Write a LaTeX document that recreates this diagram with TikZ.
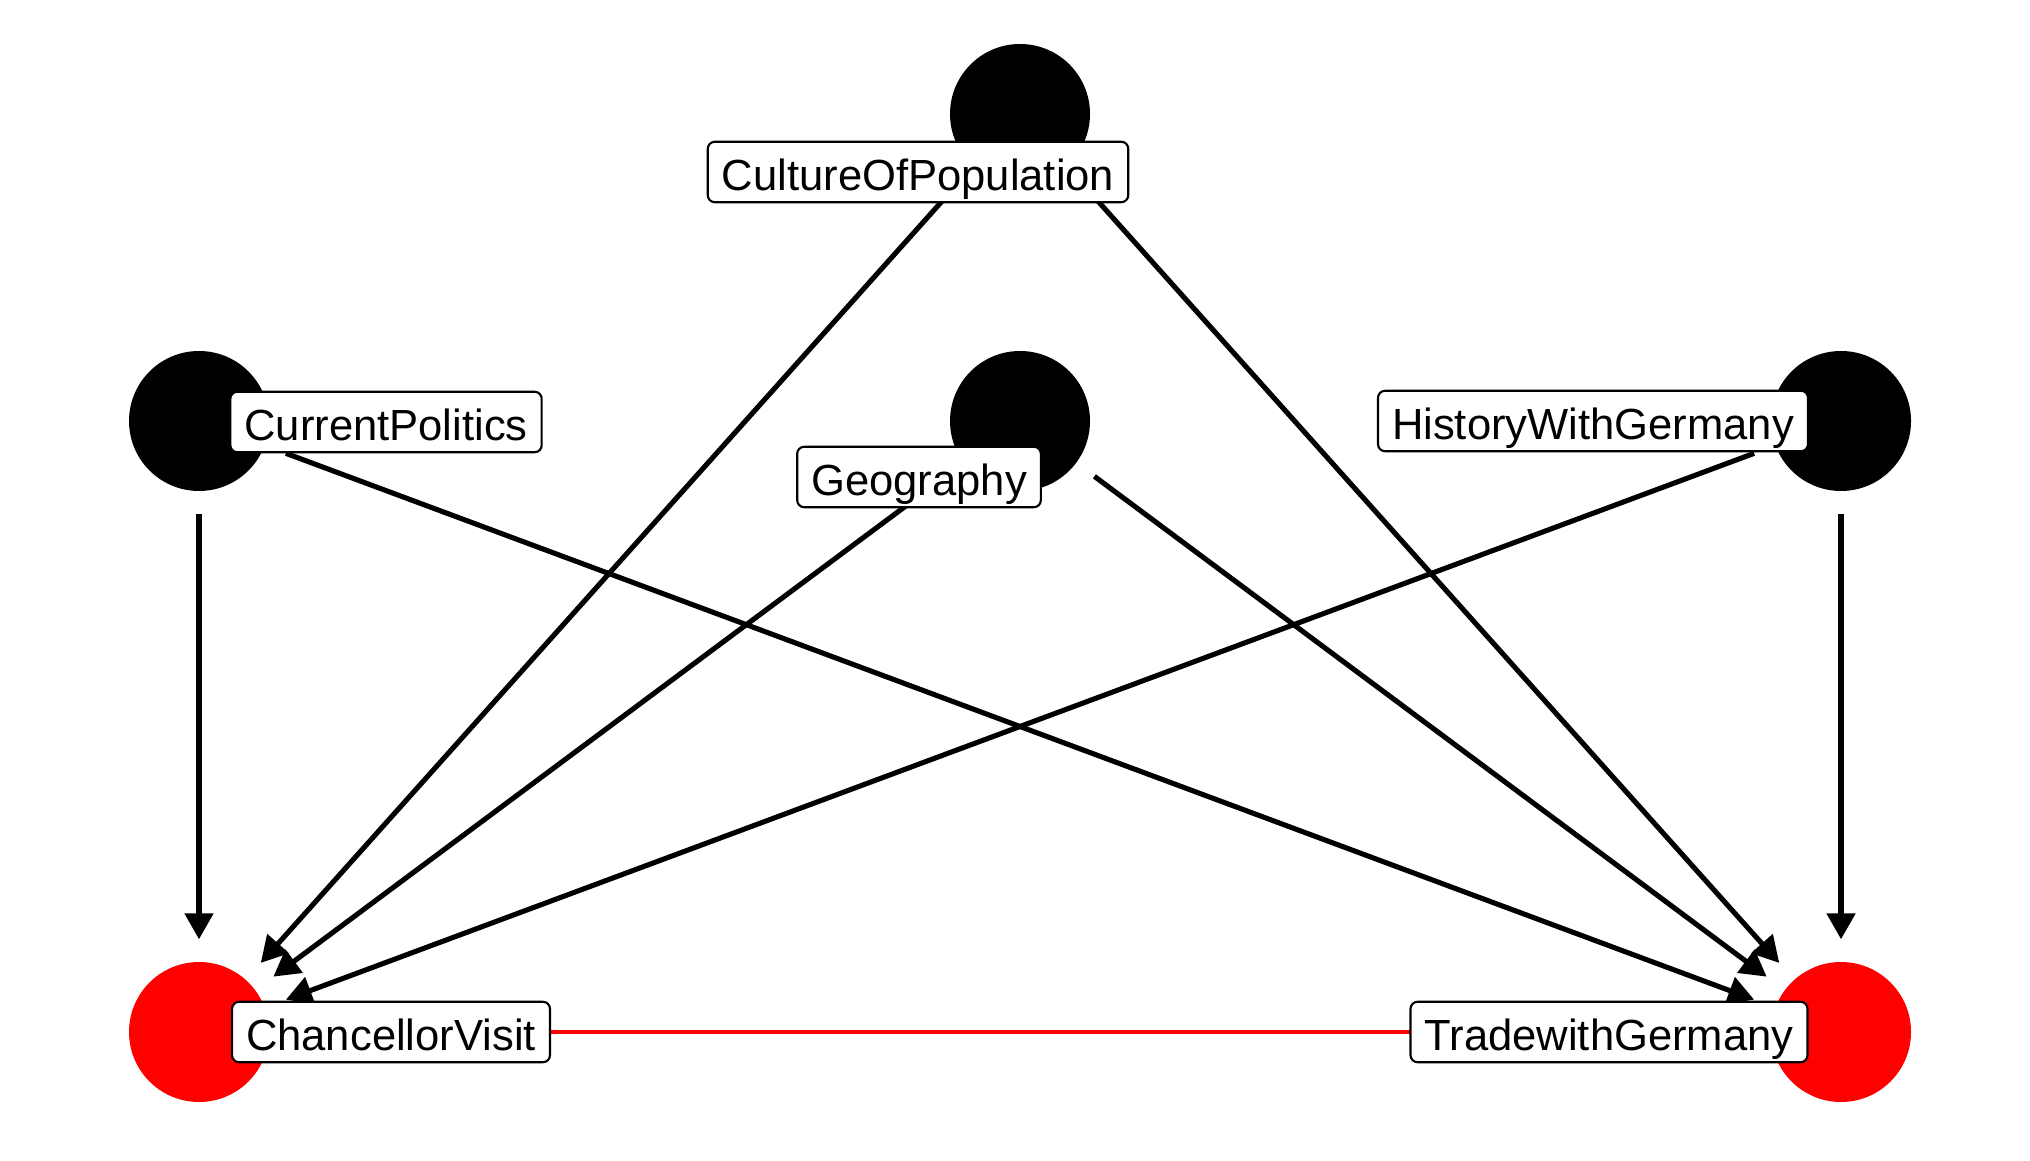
\documentclass[tikz,border=0pt]{standalone}
\usepackage{fontspec}
\setmainfont{Liberation Sans}
\usepackage{tikz}
\usetikzlibrary{arrows.meta, positioning}
\definecolor{vred}{HTML}{FF0000}

\begin{document}
\begin{tikzpicture}[
      n/.style={circle, fill=black, minimum size=1.4cm, inner sep=0pt},
      lbl/.style={draw=black, line width=0.6pt, fill=white, rounded corners=0.07cm,
        font=\fontsize{12.4}{14}\selectfont, inner xsep=0.14cm, inner ysep=0pt,
        text height=13.8pt, text depth=3.4pt},
      e/.style={line width=1.45pt, -{Triangle[length=0.26cm, width=0.28cm]},
        shorten <=0.22cm, shorten >=0.22cm}]
  \useasboundingbox (0,0) rectangle (20.3,11.6);
  % causes
  \node[n] (cul) at (10.2,10.46) {};
  \node[n] (cur) at (1.99,7.39) {};
  \node[n] (geo) at (10.2,7.39) {};
  \node[n] (his) at (18.41,7.39) {};
  % outcomes
  \node[n, fill=vred] (cha) at (1.99,1.28) {};
  \node[n, fill=vred] (tra) at (18.41,1.28) {};
  \foreach \i/\j in {cul/cha,cul/tra,cur/cha,cur/tra,
                     geo/cha,geo/tra,his/cha,his/tra}
    \draw[e] (\i)--(\j);
  \draw[vred, line width=1.2pt] (cha)--(tra);
  % labels
  \node[lbl] (lcul) at (9.18,9.88) {CultureOfPopulation};
  \node[lbl] (lcur) at (3.86,7.38) {CurrentPolitics};
  \node[lbl] (lgeo) at (9.19,6.83) {Geography};
  \node[lbl] (lhis) at (15.93,7.39) {HistoryWithGermany};
  \node[lbl] (lcha) at (3.91,1.28) {ChancellorVisit};
  \node[lbl] (ltra) at (16.09,1.28) {TradewithGermany};
\end{tikzpicture}
\end{document}
